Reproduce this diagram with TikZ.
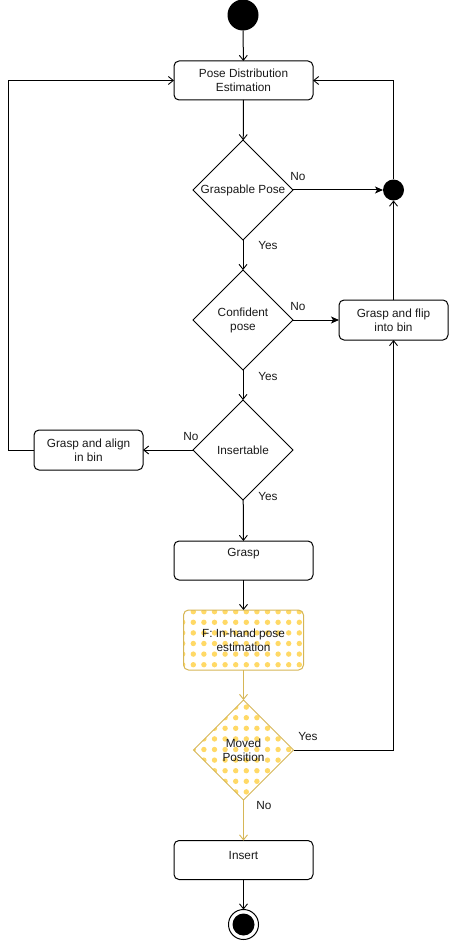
\documentclass[tikz,border=0pt]{standalone}
\usepackage{fontspec}
\setmainfont{Liberation Sans}
\usetikzlibrary{shapes.geometric,arrows.meta}
\definecolor{ystroke}{HTML}{D6B656}
\definecolor{ydot}{HTML}{FFD966}
\definecolor{txt}{HTML}{1A1A1A}
\begin{document}
\begin{tikzpicture}[x=1pt,y=-1pt,
  every node/.style={font=\fontsize{11.8}{14}\selectfont, text=txt},
  box/.style={draw, rounded corners=5pt, fill=white, line width=1pt, minimum width=139pt, minimum height=39pt, inner sep=0pt, outer sep=0pt, align=center},
  sbox/.style={box, minimum width=109pt, minimum height=40pt},
  dec/.style={draw, diamond, aspect=1, fill=white, line width=1pt, minimum width=100pt, minimum height=100pt, inner sep=0pt, outer sep=0pt, align=center},
  lbl/.style={inner sep=0pt},
  ln/.style={line width=1pt},
  oarr/.style={ln, -{Straight Barb[length=5pt,width=8pt,line width=0.9pt]}},
  farr/.style={ln, -{Stealth[length=8pt,width=7pt,inset=2pt]}},
  yl/.style={draw=ystroke}
]
\useasboundingbox (0,0) rectangle (450,941);

% nodes
\node[circle, fill=black, minimum size=31pt, inner sep=0pt, outer sep=0pt] (start) at (243,15) {};
\node[box] (pose) at (243.5,80.5) {Pose Distribution\\Estimation};
\node[dec] (gp) at (243,190) {Graspable Pose};
\node[circle, fill=black, minimum size=21pt, inner sep=0pt, outer sep=0pt] (dot) at (393.5,190) {};
\node[dec] (cp) at (243,320) {Confident\\pose};
\node[sbox] (flip) at (393.5,320) {Grasp and flip\\into bin};
\node[dec] (ins) at (243,450) {Insertable};
\node[sbox] (align) at (88.5,450) {Grasp and align\\in bin};
\node[box] (grasp) at (243.5,560.5) {};
\node[lbl] (graspt) at (243.5,554) {Grasp};

% yellow dotted nodes
\node[box, draw=none, minimum width=120pt, minimum height=60pt] (Fbg) at (243.5,640) {};
\node[dec, draw=none] (Mbg) at (243.5,750) {};
\begin{scope}
  \clip[rounded corners=6pt] (Fbg.north west) rectangle (Fbg.south east);
  \foreach \i in {0,...,12} \foreach \j in {0,...,6}
    \fill[ydot] (182.7+10.6*\i, 611.7+10.6*\j) circle (2.7);
\end{scope}
\begin{scope}
  \clip (Mbg.north) -- (Mbg.east) -- (Mbg.south) -- (Mbg.west) -- cycle;
  \foreach \i in {0,...,12} \foreach \j in {8,...,18}
    \fill[ydot] (182.7+10.6*\i, 611.7+10.6*\j) circle (2.7);
\end{scope}
\node[box, fill=none, draw=ystroke, minimum width=120pt, minimum height=60pt] (F) at (Fbg) {F: In-hand pose\\estimation};
\node[dec, fill=none, draw=ystroke] (mv) at (Mbg) {Moved\\Position};

\node[box] (insert) at (243.5,860) {};
\node[lbl] (insertt) at (243.5,855) {Insert};
\node[circle, draw, fill=white, line width=1pt, minimum size=30pt, inner sep=0pt, outer sep=0pt] (end) at (243.5,924.5) {};
\fill (end) circle (11);

% labels
\node[lbl] (l1) at (298,176) {No};
\node[lbl] (l2) at (268,245) {Yes};
\node[lbl] (l3) at (298,306) {No};
\node[lbl] (l4) at (268,376) {Yes};
\node[lbl] (l5) at (191,436) {No};
\node[lbl] (l6) at (268,496) {Yes};
\node[lbl] (l7) at (308,736) {Yes};
\node[lbl] (l8) at (264,805) {No};

% connectors
\coordinate (lc) at (8,450);
\draw[oarr] (start) -- (pose);
\draw[oarr] (pose) -- (gp);
\draw[farr] (gp.east) -- (dot.west);
\draw[oarr] (gp) -- (cp);
\draw[farr] (cp.east) -- (flip.west);
\draw[oarr] (flip.north) -- (dot.south);
\draw[oarr] (dot.north) |- (pose.east);
\draw[oarr] (cp) -- (ins);
\draw[oarr] (ins.west) -- (align.east);
\draw[oarr] (align.west) -- (lc) |- (pose.west);
\draw[oarr] (ins) -- (grasp);
\draw[oarr] (grasp) -- (F);
\draw[oarr, draw=ystroke] (F) -- (mv);
\draw[oarr] (mv.east) -| (flip.south);
\draw[oarr, draw=ystroke] (mv) -- (insert);
\draw[oarr] (insert) -- (end);
\end{tikzpicture}
\end{document}
